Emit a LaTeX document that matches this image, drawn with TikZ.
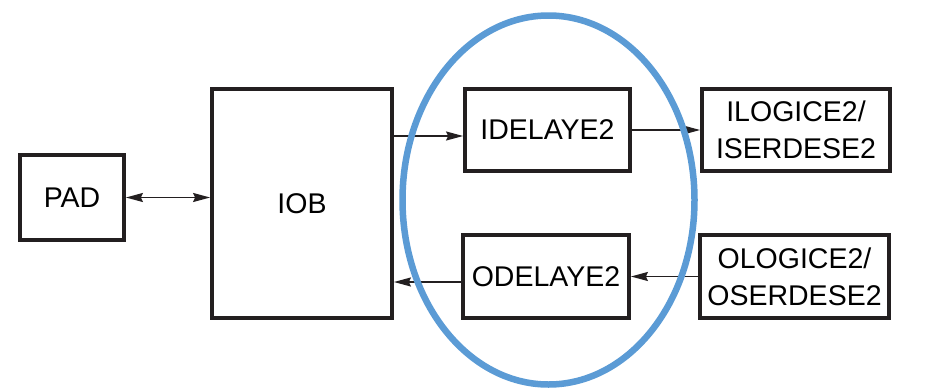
\documentclass[tikz,border=0pt]{standalone}
\usepackage{fontspec}
\setmainfont{Liberation Sans}
\usetikzlibrary{arrows.meta}

\definecolor{boxline}{HTML}{231F20}
\definecolor{ringblue}{HTML}{5B9BD5}

\tikzset{
  blk/.style={draw=boxline, line width=3.8pt, align=center, inner sep=0pt,
    font=\fontsize{28.5}{37}\selectfont},
  sig/.style={draw=boxline, line width=1.6pt, -{Stealth[length=17pt,width=9pt,inset=2pt]}},
  bisig/.style={sig, {Stealth[length=17pt,width=9pt,inset=2pt]}-{Stealth[length=17pt,width=9pt,inset=2pt]}},
}

\begin{document}
\begin{tikzpicture}[x=1pt,y=-1pt]
    \useasboundingbox (0,0) rectangle (947,391);

    \node[blk, minimum width=104pt, minimum height=85pt] (PAD) at (72,197.5) {PAD};
    \node[blk, minimum width=180pt, minimum height=229pt] (IOB) at (302,203.5) {IOB};
    \node[blk, minimum width=165pt, minimum height=82pt] (IDEL) at (547.5,130) {IDELAYE2};
    \node[blk, minimum width=188pt, minimum height=82pt] (ILOG) at (796,130) {ILOGICE2/\\ISERDESE2};
    \node[blk, minimum width=166pt, minimum height=83pt] (ODEL) at (546,276.5) {ODELAYE2};
    \node[blk, minimum width=189pt, minimum height=83pt] (OLOG) at (794.5,276.5) {OLOGICE2/\\OSERDESE2};

    \draw [bisig] (PAD.east) -- (PAD.east -| IOB.west);
    \draw [sig] ([yshift=-6pt]IDEL.west -| IOB.east) -- ([yshift=-6pt]IDEL.west);
    \draw [sig] (IDEL.east) -- (IDEL.east -| ILOG.west);
    \draw [sig] (OLOG.west) -- (OLOG.west -| ODEL.east);
    \draw [sig] ([yshift=-5.5pt]ODEL.west) -- ([yshift=-5.5pt]ODEL.west -| IOB.east);

    % highlight of the delay blocks
    \draw [ringblue, line width=6.5pt] (548.5,200) ellipse [x radius=146pt, y radius=184.5pt];
\end{tikzpicture}
\end{document}
